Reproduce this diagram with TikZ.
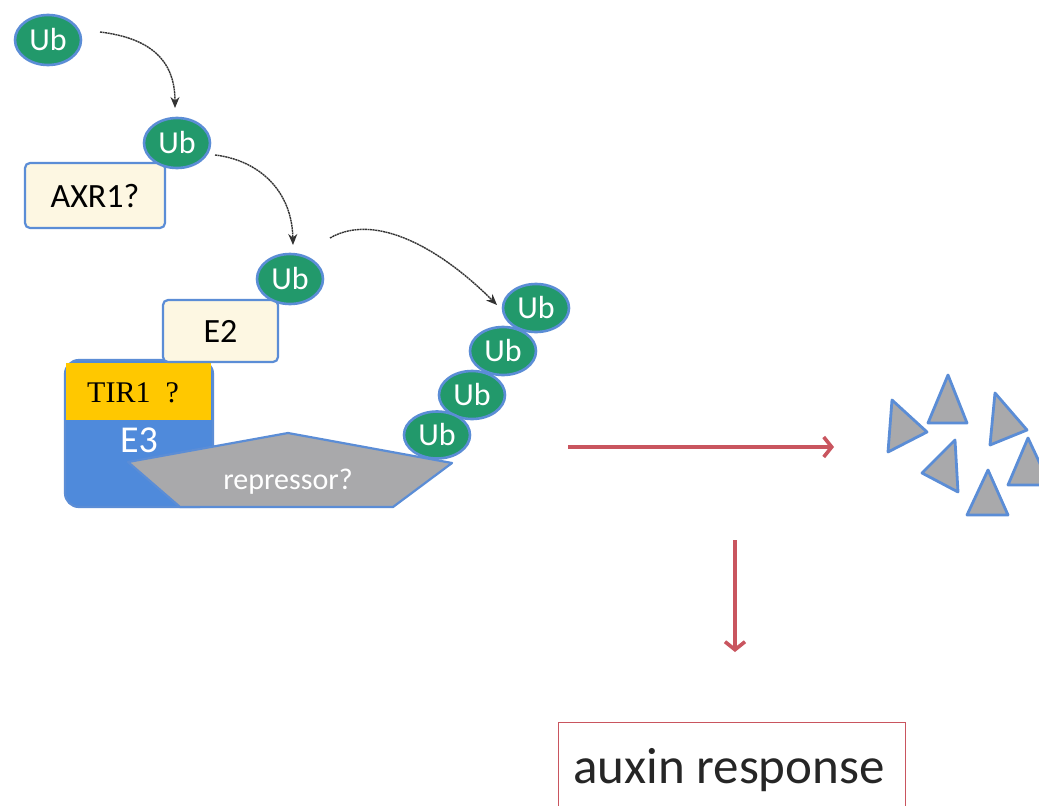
\documentclass[tikz,border=0pt]{standalone}
\usepackage{fontspec}
\setmainfont{Carlito}
\newfontfamily\timesfont{Liberation Serif}
\usetikzlibrary{arrows.meta,shapes.geometric}
\definecolor{ubgreen}{HTML}{22996B}
\definecolor{edgeblue}{HTML}{5B8DD6}
\definecolor{ethree}{HTML}{4F8ADB}
\definecolor{repgray}{HTML}{A9A9AB}
\definecolor{cream}{HTML}{FDF7E2}
\definecolor{tiryellow}{HTML}{FFC800}
\definecolor{arrowred}{HTML}{C9555F}
\definecolor{curvegray}{HTML}{333333}
\tikzset{
  ub/.style={ellipse, fill=ubgreen, draw=edgeblue, line width=2.6pt, minimum width=66pt, minimum height=50pt, inner sep=0pt, text=white, font=\fontsize{32}{32}\selectfont},
  protbox/.style={rectangle, rounded corners=5pt, fill=cream, draw=edgeblue, line width=2.2pt, inner sep=0pt, font=\fontsize{34}{34}\selectfont},
  curvearrow/.style={curvegray, line width=1.4pt, dash pattern=on 2pt off 0.6pt, -{Stealth[length=11pt,width=9pt]}},
  redarrow/.style={arrowred, line width=3.6pt, -{Straight Barb[length=8pt,width=20pt,line width=3.6pt]}},
  tri/.style={fill=repgray, draw=edgeblue, line width=2.8pt, line join=round},
}
\begin{document}
\begin{tikzpicture}[x=1pt,y=-1pt]
\useasboundingbox (0,0) rectangle (1039,806);
\clip (0,0) rectangle (1039,806);
\fill[white] (0,0) rectangle (1039,806);

% E3 and repressor
\draw[fill=ethree, draw=edgeblue, line width=2.2pt, rounded corners=14pt] (65,360) rectangle (213,507);
\node[font=\fontsize{38}{38}\selectfont, text=white] (e3) at (139,440) {E3};
\draw[fill=repgray, draw=edgeblue, line width=2.2pt, line join=round] (128,462) -- (288,433) -- (452,463) -- (393,507) -- (180,507) -- cycle;
\node[font=\fontsize{30}{30}\selectfont, text=white] (rep) at (288,482) {repressor?};
\node[rectangle, fill=tiryellow, minimum width=145pt, minimum height=57pt, inner sep=0pt, anchor=north west] (tir) at (66,363) {};
\node[font=\timesfont\fontsize{30}{30}\selectfont, anchor=west, inner sep=0pt] (tirtext) at (87,393) {TIR1\ \ ?};

% E2
\node[protbox, minimum width=115pt, minimum height=62pt] (e2) at (220.5,331) {E2};
\node[ub] (ub3) at (290,279) {Ub};

% AXR1
\node[protbox, minimum width=140pt, minimum height=65pt] (axr) at (95,195.5) {AXR1?};
\node[ub] (ub2) at (177,143) {Ub};

% top Ub
\node[ub] (ub1) at (48,40) {Ub};

% chain
\node[ub, minimum width=66pt, minimum height=48pt] (c4) at (536,308) {Ub};
\node[ub, minimum width=66pt, minimum height=48pt] (c3) at (503,351) {Ub};
\node[ub, minimum width=66pt, minimum height=48pt] (c2) at (472,395) {Ub};
\node[ub, minimum width=66pt, minimum height=47pt] (c1) at (437,435) {Ub};

% curved arrows
\coordinate (a1s) at (100,32);
\coordinate (a1e) at (175,108);
\draw[curvearrow] (a1s) .. controls (150,38) and (175,60) .. (a1e);
\coordinate (a2s) at (215,155);
\coordinate (a2e) at (293,245);
\draw[curvearrow] (a2s) .. controls (258,160) and (292,190) .. (a2e);
\coordinate (a3s) at (330,238);
\coordinate (a3e) at (497,305);
\draw[curvearrow] (a3s) .. controls (375,212) and (440,248) .. (a3e);

% red arrows
\coordinate (h1) at (568,447);
\coordinate (h2) at (834,447);
\draw[redarrow] (h1) -- (h2);
\coordinate (v1) at (735,540);
\coordinate (v2) at (735,652);
\draw[redarrow] (v1) -- (v2);

% auxin response
\node[rectangle, draw=arrowred, line width=1.4pt, minimum width=347pt, minimum height=90pt, inner sep=0pt, anchor=north west] (aux) at (558,722) {};
\node[font=\fontsize{51}{51}\selectfont, text=black!85] (auxtext) at (729,770) {auxin response};

% fragments
\draw[tri] (892,400) -- (927,432) -- (888,452) -- cycle;
\draw[tri] (948,375) -- (967,423) -- (928,423) -- cycle;
\draw[tri] (995,393) -- (1027,430) -- (990,445) -- cycle;
\draw[tri] (955,440) -- (958,492) -- (922,473) -- cycle;
\draw[tri] (988,470) -- (1008,515) -- (967,515) -- cycle;
\draw[tri] (1028,438) -- (1050,485) -- (1008,485) -- cycle;
\end{tikzpicture}
\end{document}
